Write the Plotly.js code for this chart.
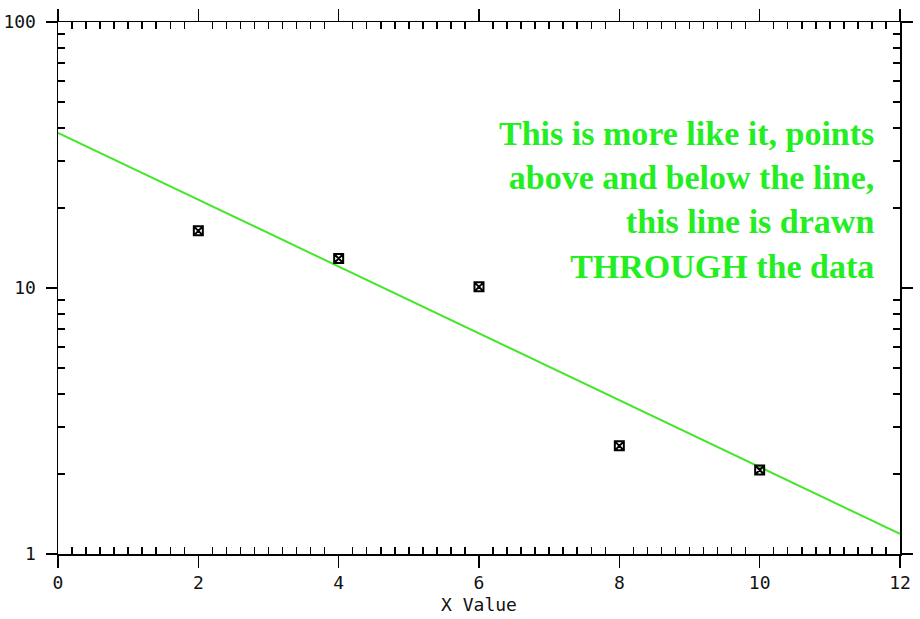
<!DOCTYPE html>
<html>
<head>
<meta charset="utf-8">
<script src="https://cdn.plot.ly/plotly-3.0.1.min.js"></script>
<style>html,body{margin:0;padding:0;background:#fff;}#chart{width:920px;height:619px;}</style>
</head>
<body>
<div id="chart"></div>
<script>
// Data
const pointX = [2, 4, 6, 8, 10];
const pointY = [16.4, 12.9, 10.1, 2.55, 2.07];
const fitX = [0, 12];
const fitY = [38.3, 1.19];
const noteLines = [
  "This is more like it, points",
  "above and below the line,",
  "this line is drawn",
  "THROUGH the data"
];
const xTitle = "X Value";

// minor tick positions (axis configuration, not data)
const xMinor = [];
for (let i = 1; i < 60; i++) { if (i % 10 !== 0) xMinor.push(+(i * 0.2).toFixed(1)); }
const yMinor = [];
[1, 10].forEach(d => { for (let k = 2; k <= 9; k++) yMinor.push(k * d); });

const tickFont = {family: "DejaVu Sans Mono", size: 18, color: "#111"};

const data = [
  {
    x: fitX, y: fitY, type: "scatter", mode: "lines",
    line: {color: "#44e62a", width: 2},
    hoverinfo: "skip", showlegend: false
  },
  {
    x: pointX, y: pointY, type: "scatter", mode: "markers",
    marker: {symbol: "square-x-open", size: 9, color: "#000", line: {color: "#000", width: 2}},
    showlegend: false
  }
];

const layout = {
  width: 920, height: 619,
  margin: {l: 58, r: 20, t: 22, b: 65},
  paper_bgcolor: "#fff", plot_bgcolor: "#fff",
  showlegend: false,
  xaxis: {
    range: [0, 12], dtick: 2, tick0: 0,
    showgrid: false, zeroline: false,
    showline: true, linecolor: "#000", linewidth: 1.5, mirror: "ticks",
    ticks: "outside", ticklen: 12, tickwidth: 1.5, tickcolor: "#000",
    minor: {tickmode: "array", tickvals: xMinor, ticks: "inside", ticklen: 7, tickwidth: 1.5, tickcolor: "#000", showgrid: false},
    tickfont: tickFont, ticklabelstandoff: 0,
    title: {text: xTitle, font: tickFont, standoff: 6}
  },
  yaxis: {
    type: "log", range: [0, 2], dtick: 1,
    showgrid: false, zeroline: false,
    showline: true, linecolor: "#000", linewidth: 1.5, mirror: "ticks",
    ticks: "outside", ticklen: 11, tickwidth: 1.5, tickcolor: "#000",
    minor: {tickmode: "array", tickvals: yMinor, ticks: "inside", ticklen: 7, tickwidth: 1.5, tickcolor: "#000", showgrid: false},
    tickfont: tickFont, ticklabelstandoff: 6
  },
  annotations: [{
    xref: "paper", yref: "paper",
    x: 0.972, y: 0.665, xanchor: "right", yanchor: "middle",
    align: "right", showarrow: false,
    text: noteLines.map(s => "<b>" + s + "</b>").join("<br>"),
    font: {family: "Liberation Serif", size: 34, color: "#22ee22"}
  }]
};

Plotly.newPlot("chart", data, layout, {displayModeBar: false, staticPlot: true});
</script>
</body>
</html>
